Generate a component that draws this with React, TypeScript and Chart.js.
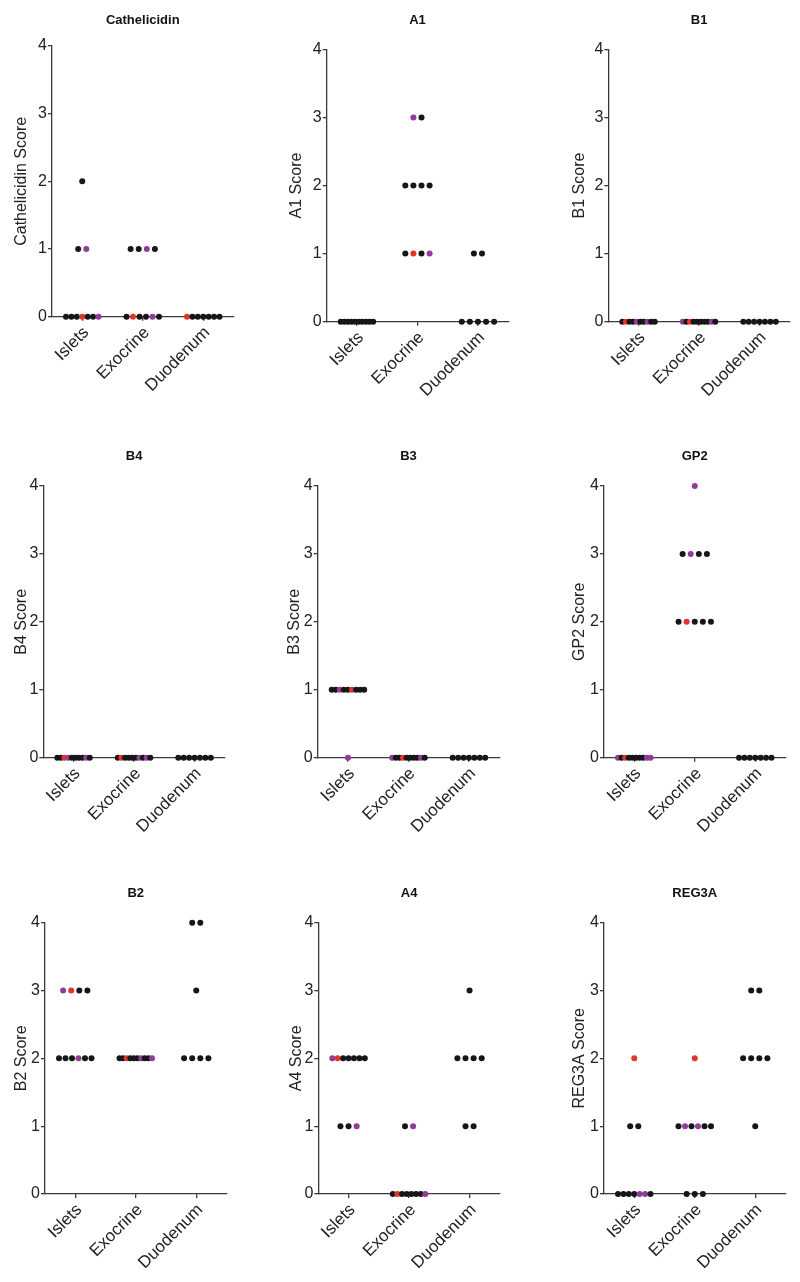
import React, { useEffect, useRef } from "react";
import { Chart, registerables } from "chart.js";

Chart.register(...registerables);

// ---------- data ----------
const categories = ["Islets", "Exocrine", "Duodenum"];
const yTickValues = [0, 1, 2, 3, 4];
const markers = ["Cathelicidin", "A1", "B1", "B4", "B3", "GP2", "B2", "A4", "REG3A"];

// scores per sample (left-to-right within a row), tag: k = black, r = red, p = purple
const cathelicidinIsletsScore = [0, 0, 0, 0, 0, 0, 0, 1, 1, 2];
const cathelicidinIsletsTag = "kkkrkkpkpk";
const cathelicidinExocrineScore = [0, 0, 0, 0, 0, 0, 1, 1, 1, 1];
const cathelicidinExocrineTag = "krkkpkkkpk";
const cathelicidinDuodenumScore = [0, 0, 0, 0, 0, 0, 0];
const cathelicidinDuodenumTag = "rkkkkkk";

const a1IsletsScore = [0, 0, 0, 0, 0, 0, 0, 0, 0, 0];
const a1IsletsTag = "kkkkkkkkkk";
const a1ExocrineScore = [1, 1, 1, 1, 2, 2, 2, 2, 3, 3];
const a1ExocrineTag = "krkpkkkkpk";
const a1DuodenumScore = [0, 0, 0, 0, 0, 1, 1];
const a1DuodenumTag = "kkkkkkk";

const b1IsletsScore = [0, 0, 0, 0, 0, 0, 0, 0, 0, 0];
const b1IsletsTag = "krkkpkkpkk";
const b1ExocrineScore = [0, 0, 0, 0, 0, 0, 0, 0, 0, 0];
const b1ExocrineTag = "pkrkkkkkpk";
const b1DuodenumScore = [0, 0, 0, 0, 0, 0, 0];
const b1DuodenumTag = "kkkkkkk";

const b4IsletsScore = [0, 0, 0, 0, 0, 0, 0, 0, 0, 0];
const b4IsletsTag = "kkrpkkkkpk";
const b4ExocrineScore = [0, 0, 0, 0, 0, 0, 0, 0, 0, 0];
const b4ExocrineTag = "krkkkkpkpk";
const b4DuodenumScore = [0, 0, 0, 0, 0, 0, 0];
const b4DuodenumTag = "kkkkkkk";

const b3IsletsScore = [0, 1, 1, 1, 1, 1, 1, 1, 1, 1];
const b3IsletsTag = "pkkpkkrkkk";
const b3ExocrineScore = [0, 0, 0, 0, 0, 0, 0, 0, 0, 0];
const b3ExocrineTag = "pkkrkkkkpk";
const b3DuodenumScore = [0, 0, 0, 0, 0, 0, 0];
const b3DuodenumTag = "kkkkkkk";

const gp2IsletsScore = [0, 0, 0, 0, 0, 0, 0, 0, 0, 0];
const gp2IsletsTag = "pkrkkkkkpp";
const gp2ExocrineScore = [2, 2, 2, 2, 2, 3, 3, 3, 3, 4];
const gp2ExocrineTag = "krkkkkpkkp";
const gp2DuodenumScore = [0, 0, 0, 0, 0, 0, 0];
const gp2DuodenumTag = "kkkkkkk";

const b2IsletsScore = [2, 2, 2, 2, 2, 2, 3, 3, 3, 3];
const b2IsletsTag = "kkkpkkprkk";
const b2ExocrineScore = [2, 2, 2, 2, 2, 2, 2, 2, 2, 2];
const b2ExocrineTag = "kkrkkkpkkp";
const b2DuodenumScore = [2, 2, 2, 2, 3, 4, 4];
const b2DuodenumTag = "kkkkkkk";

const a4IsletsScore = [1, 1, 1, 2, 2, 2, 2, 2, 2, 2];
const a4IsletsTag = "kkpprkkkkk";
const a4ExocrineScore = [0, 0, 0, 0, 0, 0, 0, 0, 1, 1];
const a4ExocrineTag = "krkkkkkpkp";
const a4DuodenumScore = [1, 1, 2, 2, 2, 2, 3];
const a4DuodenumTag = "kkkkkkk";

const reg3aIsletsScore = [0, 0, 0, 0, 0, 0, 0, 1, 1, 2];
const reg3aIsletsTag = "kkkkppkkkr";
const reg3aExocrineScore = [0, 0, 0, 1, 1, 1, 1, 1, 1, 2];
const reg3aExocrineTag = "kkkkpkpkkr";
const reg3aDuodenumScore = [1, 2, 2, 2, 2, 3, 3];
const reg3aDuodenumTag = "kkkkkkk";

const panelScores = [
  [cathelicidinIsletsScore, cathelicidinExocrineScore, cathelicidinDuodenumScore],
  [a1IsletsScore, a1ExocrineScore, a1DuodenumScore],
  [b1IsletsScore, b1ExocrineScore, b1DuodenumScore],
  [b4IsletsScore, b4ExocrineScore, b4DuodenumScore],
  [b3IsletsScore, b3ExocrineScore, b3DuodenumScore],
  [gp2IsletsScore, gp2ExocrineScore, gp2DuodenumScore],
  [b2IsletsScore, b2ExocrineScore, b2DuodenumScore],
  [a4IsletsScore, a4ExocrineScore, a4DuodenumScore],
  [reg3aIsletsScore, reg3aExocrineScore, reg3aDuodenumScore],
];
const panelTags = [
  [cathelicidinIsletsTag, cathelicidinExocrineTag, cathelicidinDuodenumTag],
  [a1IsletsTag, a1ExocrineTag, a1DuodenumTag],
  [b1IsletsTag, b1ExocrineTag, b1DuodenumTag],
  [b4IsletsTag, b4ExocrineTag, b4DuodenumTag],
  [b3IsletsTag, b3ExocrineTag, b3DuodenumTag],
  [gp2IsletsTag, gp2ExocrineTag, gp2DuodenumTag],
  [b2IsletsTag, b2ExocrineTag, b2DuodenumTag],
  [a4IsletsTag, a4ExocrineTag, a4DuodenumTag],
  [reg3aIsletsTag, reg3aExocrineTag, reg3aDuodenumTag],
];

// ---------- layout & style ----------
const FONT = "'Liberation Sans', Arial, Helvetica, sans-serif";
const TEXT = "#222";
const AXIS = "#3a3a3a";
const tagColor: Record<string, string> = { k: "#161616", r: "#e2342c", p: "#8e3d98" };

const colX = [0, 265, 530];
const colW = [265, 265, 270];
const rowY = [0, 420, 840];
const rowH = [420, 420, 442];
const plotWidth = 181.5;
// absolute page positions of each panel's plot
const plotLeft = [52, 326.7, 608.3, 43.3, 317.7, 604, 45, 318.3, 604];
const plotTop = [46, 49.3, 49.3, 486, 486, 486, 922.7, 922.7, 922.7];
const plotBottom = [316.7, 321.7, 321.7, 757.7, 757.7, 757.7, 1194, 1194, 1194];
const titleCenterY = [20, 20, 20, 456, 456, 456, 893.3, 893.3, 893.3];
const yTitleCenterX = [21.7, 296.7, 580, 21.7, 295, 580, 21.7, 296.7, 580];

const MAX_STEP = 8.1; // px between neighbouring dots
const MAX_SPAN = 32.5; // px, widest row

function swarm(scores: number[], tags: string, group: number, pxPerUnit: number) {
  const rows = new Map<number, number[]>();
  scores.forEach((s, i) => {
    if (!rows.has(s)) rows.set(s, []);
    rows.get(s)!.push(i);
  });
  const pts: { x: number; y: number }[] = [];
  const cols: string[] = [];
  rows.forEach((idx, s) => {
    const n = idx.length;
    const step = n > 1 ? Math.min(MAX_STEP, MAX_SPAN / (n - 1)) : 0;
    idx.forEach((i, k) => {
      pts.push({ x: group + ((k - (n - 1) / 2) * step) / pxPerUnit, y: s });
      cols.push(tagColor[tags[i]]);
    });
  });
  return { pts, cols };
}

function Panel({ index }: { index: number }) {
  const ref = useRef<HTMLCanvasElement | null>(null);
  const col = index % 3;
  const row = Math.floor(index / 3);
  const W = colW[col];
  const H = rowH[row];
  useEffect(() => {
    const canvas = ref.current;
    if (!canvas) return;
    const L = plotLeft[index] - colX[col];
    const R = L + plotWidth;
    const T = plotTop[index] - rowY[row];
    const B = plotBottom[index] - rowY[row];
    const ty = titleCenterY[index] - rowY[row];
    const yTitleX = yTitleCenterX[index] - colX[col];
    const titleSize = 13;
    const titleLH = titleSize * 1.2;
    const padTop = ty - titleLH / 2;
    const titleBottomPad = T - padTop - titleLH;
    const yTitleSize = 16;
    const padLeft = yTitleX - (yTitleSize * 1.2) / 2;

    const pxPerUnit = plotWidth / 3;
    const pts: { x: number; y: number }[] = [];
    const cols: string[] = [];
    panelScores[index].forEach((sc, g) => {
      const r = swarm(sc, panelTags[index][g], g, pxPerUnit);
      pts.push(...r.pts);
      cols.push(...r.cols);
    });

    const chart = new Chart(canvas, {
      type: "scatter",
      data: {
        datasets: [
          {
            data: pts,
            pointBackgroundColor: cols,
            pointBorderColor: cols,
            pointBorderWidth: 0,
            pointRadius: 3,
            pointHoverRadius: 3,
            clip: false,
          } as any,
        ],
      },
      options: {
        animation: false,
        responsive: false,
        events: [],
        layout: { padding: { left: padLeft, right: W - R, top: padTop, bottom: 0 } },
        plugins: {
          legend: { display: false },
          tooltip: { enabled: false },
          title: {
            display: true,
            text: markers[index],
            fullSize: false,
            color: "#111",
            font: { family: FONT, size: titleSize, weight: "bold", lineHeight: 1.2 },
            padding: { top: 0, bottom: titleBottomPad },
          },
        },
        scales: {
          x: {
            type: "linear",
            min: -0.5,
            max: 2.5,
            afterBuildTicks: (s: any) => {
              s.ticks = categories.map((_, i) => ({ value: i }));
            },
            afterFit: (s: any) => {
              s.height = H - B;
            },
            ticks: {
              callback: (v: any) => categories[Math.round(Number(v))],
              minRotation: 45,
              maxRotation: 45,
              autoSkip: false,
              padding: 2,
              labelOffset: 4,
              color: TEXT,
              font: { family: FONT, size: 17 },
            },
            grid: { display: true, drawOnChartArea: false, drawTicks: true, tickLength: 4, color: AXIS, lineWidth: 1.3 },
            border: { display: true, color: AXIS, width: 1.3 },
          },
          y: {
            type: "linear",
            min: 0,
            max: 4,
            afterBuildTicks: (s: any) => {
              s.ticks = yTickValues.map((v) => ({ value: v }));
            },
            afterFit: (s: any) => {
              s.width = L - padLeft;
            },
            ticks: {
              padding: 1,
              color: TEXT,
              font: { family: FONT, size: 16 },
            },
            title: {
              display: true,
              text: markers[index] + " Score",
              color: TEXT,
              font: { family: FONT, size: yTitleSize, lineHeight: 1.2 },
              padding: 0,
            },
            grid: { display: true, drawOnChartArea: false, drawTicks: true, tickLength: 4, color: AXIS, lineWidth: 1.3 },
            border: { display: true, color: AXIS, width: 1.3 },
          },
        },
      } as any,
    });
    return () => chart.destroy();
  }, [index]);
  return (
    <canvas
      ref={ref}
      width={W}
      height={H}
      style={{ position: "absolute", left: colX[col], top: rowY[row], width: W, height: H }}
    />
  );
}

export default function App() {
  return (
    <div style={{ position: "absolute", left: 0, top: 0, width: 800, height: 1282, background: "#fff" }}>
      {markers.map((_, i) => (
        <Panel key={i} index={i} />
      ))}
    </div>
  );
}
